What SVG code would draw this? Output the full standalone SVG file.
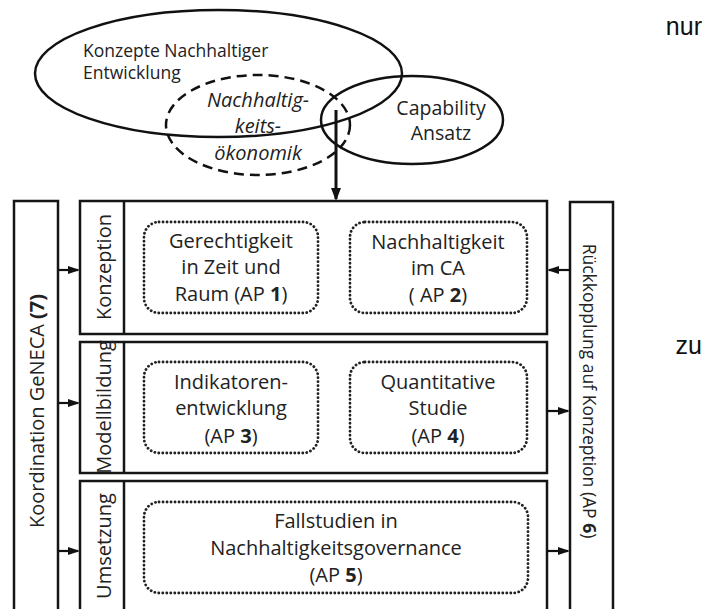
<svg xmlns="http://www.w3.org/2000/svg" width="715" height="609" viewBox="0 0 715 609">
<defs>
<style>
.t{font-family:"Open Sans","Noto Sans","DejaVu Sans",sans-serif;fill:#222;}
.m{font-size:20px;text-anchor:middle;}
.b{font-weight:bold;}
.box{fill:none;stroke:#151515;stroke-width:2.5;}
.dot{fill:none;stroke:#222;stroke-width:2.8;stroke-dasharray:0.1 3.9;stroke-linecap:round;}
.ell{fill:none;stroke:#111;stroke-width:2.5;}
.con{stroke:#111;stroke-width:2.2;fill:none;}
.side{font-family:"Liberation Sans",Arial,sans-serif;font-size:25px;fill:#111;text-anchor:end;}
</style>
<marker id="ah" markerWidth="12" markerHeight="8" refX="10" refY="4" orient="auto" markerUnits="userSpaceOnUse"><path d="M0,0 L12,4 L0,8 z" fill="#111"/></marker>
<marker id="ahBig" markerWidth="13" markerHeight="10" refX="11" refY="5" orient="auto" markerUnits="userSpaceOnUse"><path d="M0,0 L13,5 L0,10 z" fill="#111"/></marker>
</defs>
<rect width="715" height="609" fill="#fff"/>

<g id="konzepte-ne">
<ellipse class="ell" cx="218.5" cy="73.5" rx="183.5" ry="63.5"/>
<text class="t" font-size="17.5" x="83" y="57">Konzepte Nachhaltiger</text>
<text class="t" font-size="17.5" x="83" y="79">Entwicklung</text>
</g>
<g id="nachhaltigkeitsoekonomik">
<ellipse cx="258" cy="125" rx="92" ry="50" fill="none" stroke="#111" stroke-width="2.5" stroke-dasharray="10 6"/>
<text class="t m" font-style="italic" x="258" y="107">Nachhaltig-</text>
<text class="t m" font-style="italic" x="258" y="133">keits-</text>
<text class="t m" font-style="italic" x="258" y="160">ökonomik</text>
</g>
<g id="capability">
<ellipse class="ell" cx="412" cy="120" rx="91" ry="44"/>
<text class="t" font-size="19.5" text-anchor="middle" x="441" y="115">Capability</text>
<text class="t" font-size="19.5" text-anchor="middle" x="441" y="140">Ansatz</text>
</g>

<g id="koordination">
<path class="box" d="M14,615 V201 H58 V615"/>
<text class="t m" transform="translate(44,411) rotate(-90)">Koordination GeNECA <tspan class="b">(7)</tspan></text>
</g>
<g id="rueckkopplung">
<path class="box" d="M570,615 V202 H613 V615"/>
<text class="t" font-size="17.5" text-anchor="middle" transform="translate(583,391) rotate(90)">Rückkopplung auf Konzeption (AP <tspan class="b">6</tspan>)</text>
</g>

<g id="konzeption">
<rect class="box" x="80" y="201" width="467" height="133"/>
<line class="box" x1="124" y1="201" x2="124" y2="334"/>
<text class="t m" transform="translate(111,267) rotate(-90)">Konzeption</text>
</g>
<g id="modellbildung">
<rect class="box" x="80" y="342" width="467" height="131"/>
<line class="box" x1="124" y1="342" x2="124" y2="473"/>
<text class="t m" transform="translate(111,407) rotate(-90)">Modellbildung</text>
</g>
<g id="umsetzung">
<path class="box" d="M80,615 V481 H547 V615"/>
<line class="box" x1="124" y1="481" x2="124" y2="615"/>
<text class="t m" transform="translate(111,546) rotate(-90)">Umsetzung</text>
</g>

<g id="ap1">
<rect class="dot" x="144" y="222" width="174" height="91" rx="15"/>
<text class="t m" x="231" y="248">Gerechtigkeit</text>
<text class="t m" x="231" y="274">in Zeit und</text>
<text class="t m" x="231" y="301">Raum (AP <tspan class="b">1</tspan>)</text>
</g>
<g id="ap2">
<rect class="dot" x="350" y="222" width="177" height="91" rx="15"/>
<text class="t m" x="438" y="249">Nachhaltigkeit</text>
<text class="t m" x="438" y="275">im CA</text>
<text class="t m" x="438" y="302">( AP <tspan class="b">2</tspan>)</text>
</g>
<g id="ap3">
<rect class="dot" x="144" y="362" width="174" height="91" rx="15"/>
<text class="t m" x="231" y="389">Indikatoren-</text>
<text class="t m" x="231" y="415">entwicklung</text>
<text class="t m" x="231" y="443">(AP <tspan class="b">3</tspan>)</text>
</g>
<g id="ap4">
<rect class="dot" x="350" y="362" width="177" height="91" rx="15"/>
<text class="t m" x="438" y="389">Quantitative</text>
<text class="t m" x="438" y="415">Studie</text>
<text class="t m" x="438" y="443">(AP <tspan class="b">4</tspan>)</text>
</g>
<g id="ap5">
<rect class="dot" x="144" y="502" width="384" height="91" rx="15"/>
<text class="t m" x="336" y="528">Fallstudien in</text>
<text class="t m" x="336" y="555">Nachhaltigkeitsgovernance</text>
<text class="t m" x="336" y="582">(AP <tspan class="b">5</tspan>)</text>
</g>

<g id="connectors">
<line x1="336" y1="110" x2="336" y2="199" stroke="#111" stroke-width="3" marker-end="url(#ahBig)"/>
<line class="con" x1="58" y1="270" x2="78" y2="270" marker-end="url(#ah)"/>
<line class="con" x1="58" y1="403" x2="78" y2="403" marker-end="url(#ah)"/>
<line class="con" x1="58" y1="551" x2="78" y2="551" marker-end="url(#ah)"/>
<line class="con" x1="570" y1="270" x2="549" y2="270" marker-end="url(#ah)"/>
<line class="con" x1="547" y1="411" x2="568" y2="411" marker-end="url(#ah)"/>
<line class="con" x1="547" y1="551" x2="568" y2="551" marker-end="url(#ah)"/>
</g>

<g id="side-notes">
<text class="side" x="702" y="35">nur</text>
<text class="side" x="702" y="354">zu</text>
</g>
</svg>
